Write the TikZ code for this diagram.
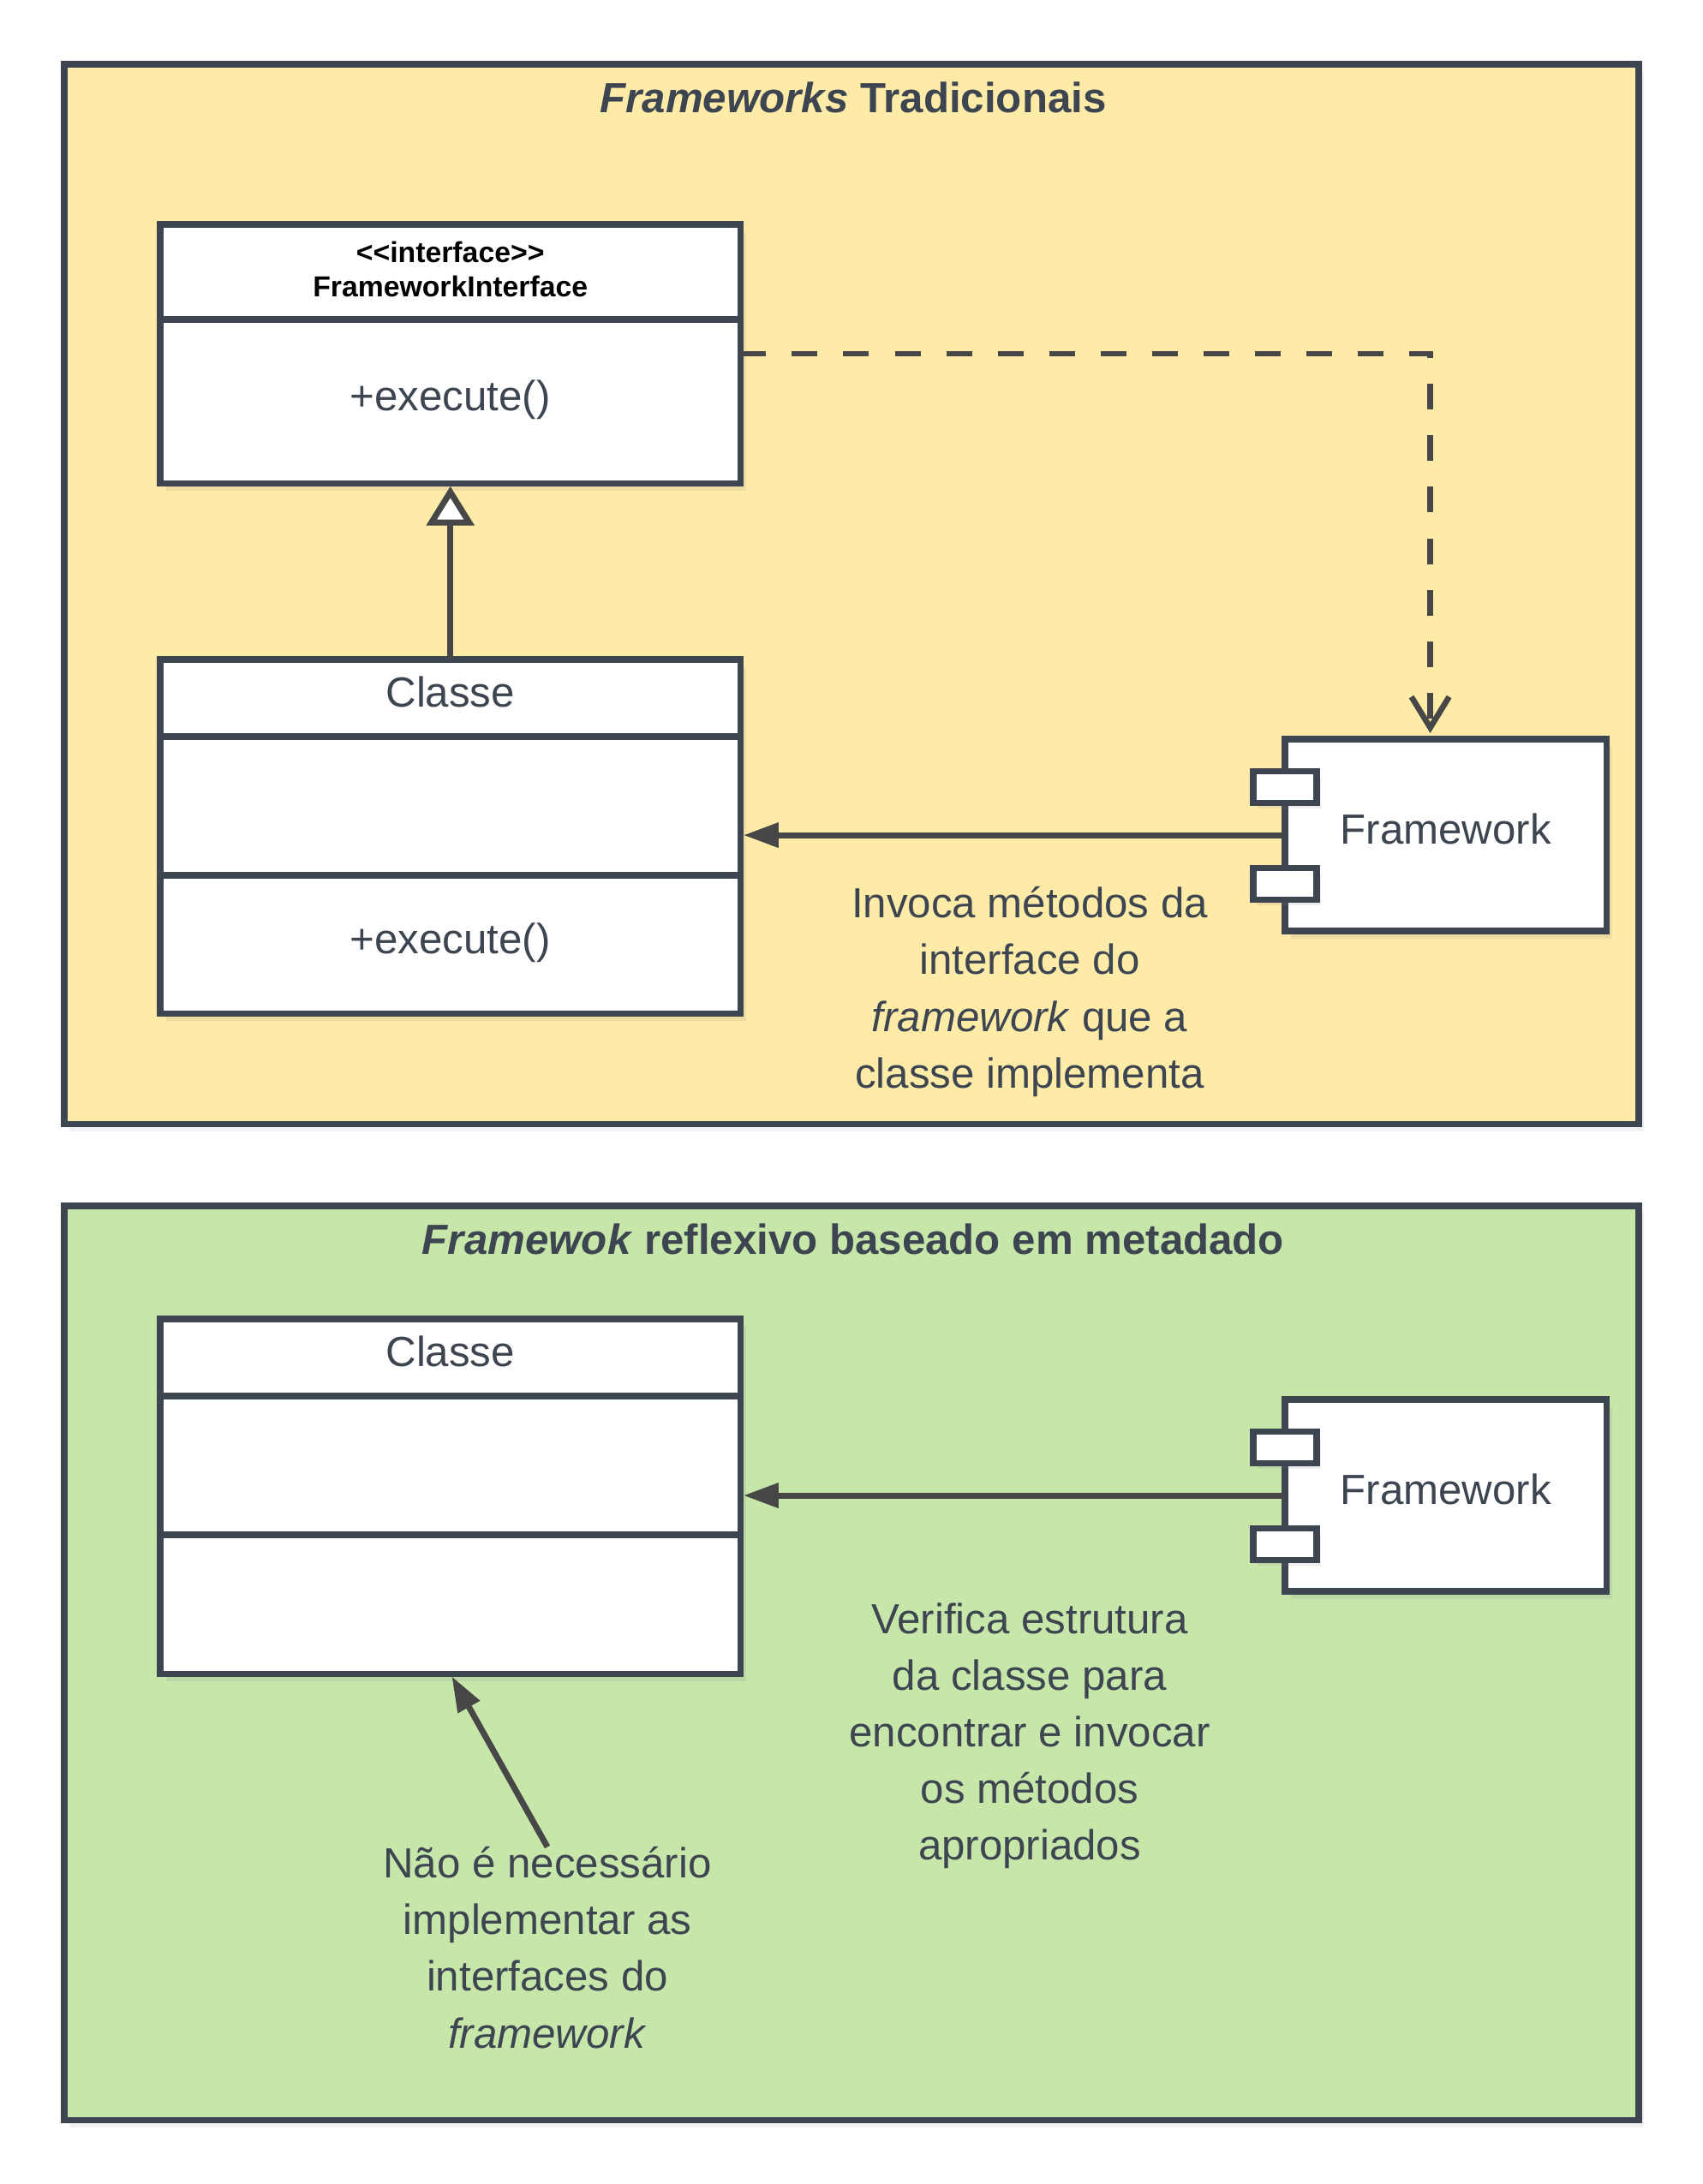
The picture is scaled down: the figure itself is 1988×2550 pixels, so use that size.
\documentclass[tikz,border=0pt]{standalone}
\usepackage{fontspec}
\setmainfont{Liberation Sans}
\usetikzlibrary{arrows.meta,shadows,calc}
\definecolor{ink}{HTML}{3D4551}
\definecolor{wire}{HTML}{474747}
\definecolor{paleyellow}{HTML}{FFEBA8}
\definecolor{palegreen}{HTML}{C7E6AA}

\begin{document}
\begin{tikzpicture}[x=0.01cm, y=-0.01cm, outer sep=0pt, inner sep=0pt, text=ink,
  font=\fontsize{14}{18.8}\selectfont,
  panel/.style={draw=ink, line width=2.1pt, anchor=north west,
    drop shadow={shadow xshift=0.6mm, shadow yshift=-0.8mm, opacity=0.1}},
  umlbox/.style={draw=ink, fill=white, line width=2.1pt, minimum width=6.77cm, anchor=north west,
    drop shadow={shadow xshift=0.7mm, shadow yshift=-0.9mm, opacity=0.14}},
  part/.style={draw=ink, line width=2.1pt, minimum width=6.77cm, anchor=north,
    text height=10pt, text depth=4pt},
  component/.style={draw=ink, fill=white, line width=2.1pt, minimum width=3.75cm, minimum height=2.24cm,
    anchor=north west, text height=10pt, text depth=4pt,
    drop shadow={shadow xshift=0.7mm, shadow yshift=-0.9mm, opacity=0.14}},
  port/.style={draw=ink, fill=white, line width=2.1pt, minimum width=0.74cm, minimum height=0.37cm,
    drop shadow={shadow xshift=0.5mm, shadow yshift=-0.6mm, opacity=0.14}},
  note/.style={align=center},
  title/.style={font=\bfseries\fontsize{14}{17}\selectfont, anchor=base},
  calls/.style={draw=wire, line width=2pt, shorten >=1pt, -{Triangle[length=0.41cm, width=0.28cm]}},
  realizes/.style={draw=wire, line width=2pt, shorten >=1pt, -{Triangle[fill=white, length=0.46cm, width=0.55cm]}},
  depends/.style={draw=wire, line width=1.9pt, dash pattern=on 0.3cm off 0.3cm, shorten >=2pt,
    -{Straight Barb[length=0.36cm, width=0.44cm]}}]

\useasboundingbox (0,0) rectangle (1988,2550);

% traditional frameworks
\node[panel, fill=paleyellow, minimum width=18.37cm, minimum height=12.37cm] at (75, 75) (PANEL_TOP) {};
\node[title] at (996, 131) (TITLE_TOP) {\textit{Frameworks} Tradicionais};

\node[umlbox, minimum height=3.02cm] at (187, 262) (IFACE) {};
\node[part, minimum height=1.11cm] at (IFACE.north) (IFACE_HEAD) {};
\node[font=\bfseries\fontsize{9.6}{11.4}\selectfont, text=black, align=center] at ($(IFACE_HEAD)+(0,-3)$)
  {<\kern0pt<interface>\kern0pt>\\FrameworkInterface};
\node[part, minimum height=1.91cm] at (IFACE_HEAD.south) (IFACE_OPS) {+execute()};

\node[umlbox, minimum height=4.13cm] at (187, 770) (CLASSE_TOP) {};
\node[part, minimum height=0.9cm] at (CLASSE_TOP.north) (CLASSE_TOP_HEAD) {Classe};
\node[part, minimum height=1.62cm] at (CLASSE_TOP_HEAD.south) (CLASSE_TOP_ATTR) {};
\node[part, minimum height=1.61cm] at (CLASSE_TOP_ATTR.south) (CLASSE_TOP_OPS) {+execute()};

\node[component] at (1500, 863) (FW_TOP) {Framework};
\node[port] at ($(FW_TOP.west)+(0,-56)$) (FW_TOP_P1) {};
\node[port] at ($(FW_TOP.west)+(0,57)$) (FW_TOP_P2) {};

\node[note] at (1202, 1158) (NOTE_TOP) {Invoca métodos da\\interface do\\\textit{framework} que a\\classe implementa};

\draw[realizes] (CLASSE_TOP.north) -- (IFACE.south);
\draw[depends] (IFACE.east) -| ([xshift=-0.18cm]FW_TOP.north);
\draw[calls] (FW_TOP.west) -- (FW_TOP.west -| CLASSE_TOP.east);

% reflexive framework
\node[panel, fill=palegreen, minimum width=18.37cm, minimum height=10.67cm] at (75, 1408) (PANEL_BOTTOM) {};
\node[title] at (996, 1464) (TITLE_BOTTOM) {\textit{Framewok} reflexivo baseado em metadado};

\node[umlbox, minimum height=4.14cm] at (187, 1540) (CLASSE_BOTTOM) {};
\node[part, minimum height=0.9cm] at (CLASSE_BOTTOM.north) (CLASSE_BOTTOM_HEAD) {Classe};
\node[part, minimum height=1.62cm] at (CLASSE_BOTTOM_HEAD.south) (CLASSE_BOTTOM_ATTR) {};
\node[part, minimum height=1.62cm] at (CLASSE_BOTTOM_ATTR.south) (CLASSE_BOTTOM_OPS) {};

\node[component] at (1500, 1634) (FW_BOTTOM) {Framework};
\node[port] at ($(FW_BOTTOM.west)+(0,-56)$) (FW_BOTTOM_P1) {};
\node[port] at ($(FW_BOTTOM.west)+(0,57)$) (FW_BOTTOM_P2) {};

\node[note] at (1202, 2027) (NOTE_VERIFY) {Verifica estrutura\\da classe para\\encontrar e invocar\\os métodos\\apropriados};
\node[note] at (639, 2274) (NOTE_IMPL) {Não é necessário\\implementar as\\interfaces do\\\textit{framework}};

\draw[calls] (FW_BOTTOM.west) -- (FW_BOTTOM.west -| CLASSE_BOTTOM.east);
\draw[calls] (NOTE_IMPL.north) -- (CLASSE_BOTTOM.south);
\end{tikzpicture}
\end{document}
